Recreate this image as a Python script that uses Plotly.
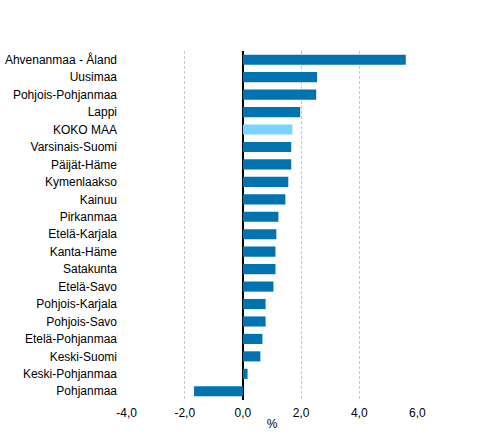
import plotly.graph_objects as go

regions = [
    "Ahvenanmaa - Åland", "Uusimaa", "Pohjois-Pohjanmaa", "Lappi", "KOKO MAA",
    "Varsinais-Suomi", "Päijät-Häme", "Kymenlaakso", "Kainuu", "Pirkanmaa",
    "Etelä-Karjala", "Kanta-Häme", "Satakunta", "Etelä-Savo", "Pohjois-Karjala",
    "Pohjois-Savo", "Etelä-Pohjanmaa", "Keski-Suomi", "Keski-Pohjanmaa", "Pohjanmaa",
]
change_pct = [
    5.6, 2.55, 2.52, 1.97, 1.70,
    1.66, 1.66, 1.56, 1.46, 1.22,
    1.15, 1.12, 1.12, 1.05, 0.78,
    0.78, 0.67, 0.60, 0.16, -1.68,
]
x_ticks = [-4, -2, 0, 2, 4, 6]
x_tick_labels = ["-4,0", "-2,0", "0,0", "2,0", "4,0", "6,0"]

# whole country highlighted in light blue
bar_colors = ["#7dd3ff" if r == "KOKO MAA" else "#0073b0" for r in regions]

fig = go.Figure(
    go.Bar(
        x=change_pct,
        y=regions,
        orientation="h",
        marker_color=bar_colors,
        marker_line_width=0,
        width=0.58,
    )
)

fig.update_layout(
    template="none",
    width=492,
    height=438,
    margin=dict(l=126, r=74, t=51, b=38),
    paper_bgcolor="white",
    plot_bgcolor="white",
    showlegend=False,
    font=dict(family="Liberation Sans, Arial, sans-serif", size=12, color="#000000"),
)

# range padded a hair so the -4 and 6 gridlines are drawn at the edges
fig.update_xaxes(
    range=[-4.02, 6.02],
    tickvals=x_ticks,
    ticktext=x_tick_labels,
    tickfont=dict(color="#000000"),
    showgrid=True,
    gridcolor="#c8c8c8",
    griddash="3px,2px",
    gridwidth=1,
    zeroline=True,
    zerolinecolor="black",
    zerolinewidth=1.5,
    showline=False,
    ticks="",
    ticklabelstandoff=4,
    automargin=False,
    title=dict(text="%", standoff=0, font=dict(size=12, color="#000000")),
    fixedrange=True,
)

fig.update_yaxes(
    categoryorder="array",
    categoryarray=regions[::-1],
    range=[-0.5, len(regions) - 0.5],
    tickfont=dict(color="#000000"),
    showgrid=False,
    showline=False,
    ticks="",
    ticklabelstandoff=8,
    automargin=False,
    fixedrange=True,
)

# drop the default page margin so the figure sits at the window's corner
fig.write_html(
    "out.html",
    config={"displayModeBar": False},
    post_script="document.body.style.margin='0';",
)
